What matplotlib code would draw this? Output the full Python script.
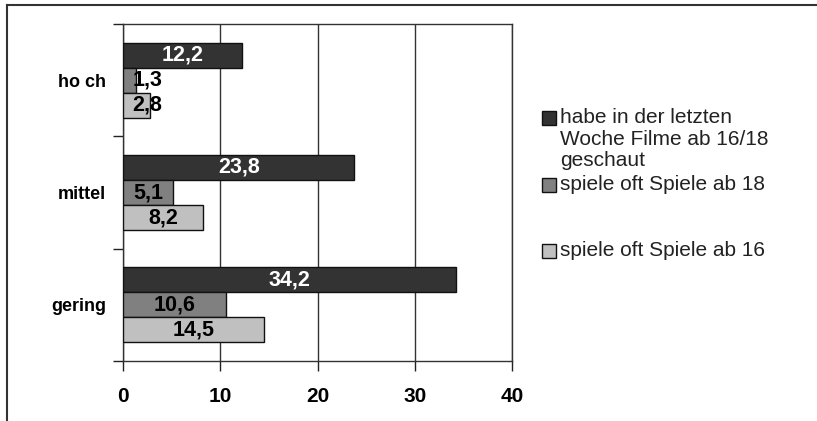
import matplotlib
matplotlib.use("Agg")
import matplotlib.pyplot as plt
from matplotlib.patches import Rectangle
from matplotlib.lines import Line2D

plt.rcParams['font.family'] = ['Liberation Sans', 'DejaVu Sans']

# data (bottom to top on the chart)
categories = ['gering', 'mittel', 'ho ch']
series_names = ['habe in der letzten\nWoche Filme ab 16/18\ngeschaut',
                'spiele oft Spiele ab 18',
                'spiele oft Spiele ab 16']
filme_16_18 = [34.2, 23.8, 12.2]
spiele_18 = [10.6, 5.1, 1.3]
spiele_16 = [14.5, 8.2, 2.8]
x_ticks = [0, 10, 20, 30, 40]

colors = ['#333333', '#808080', '#c0c0c0']
text_colors = ['white', 'black', 'black']

fig = plt.figure(figsize=(8.17, 4.21), dpi=100)
ax = fig.add_axes([0.1506, 0.1425, 0.4761, 0.8005])

bar_h = 0.2226
offsets = [bar_h, 0, -bar_h]
all_series = [filme_16_18, spiele_18, spiele_16]

for s, (vals, off) in enumerate(zip(all_series, offsets)):
    ypos = [i + 0.5 + off for i in range(len(categories))]
    ax.barh(ypos, vals, height=bar_h, color=colors[s], edgecolor='#111111',
            linewidth=1, zorder=3)
    for y, v in zip(ypos, vals):
        ax.text(max(v / 2, 2.5), y, f'{v:.1f}'.replace('.', ','),
                ha='center', va='center', fontsize=15.5, fontweight='bold',
                color=text_colors[s], zorder=4)

ax.set_xlim(0, 40)
ax.set_ylim(0, 3)
ax.set_xticks(x_ticks)
ax.set_xticklabels([str(t) for t in x_ticks], fontsize=15, fontweight='bold')
ax.tick_params(axis='x', length=7, width=1, color='#222222', pad=12)

ax.set_yticks([0, 1, 2, 3])
ax.set_yticklabels([])
ax.set_yticks([0.5, 1.5, 2.5], minor=True)
ax.set_yticklabels(categories, minor=True, fontsize=13, fontweight='bold')
ax.tick_params(axis='y', which='major', length=7, width=1, color='#222222')
ax.tick_params(axis='y', which='minor', length=0, pad=12)

ax.grid(axis='x', color='#333333', linewidth=1, zorder=0)
for sp in ax.spines.values():
    sp.set_color('#333333')
    sp.set_linewidth(1)

# legend, drawn by hand to match the stacked multi-line layout
W, H = 817.0, 421.0
leg_y = [118, 185, 251]
for s, y in enumerate(leg_y):
    fig.patches.append(Rectangle((542 / W, 1 - (y + 7) / H), 14 / W, 14 / H,
                                 transform=fig.transFigure, facecolor=colors[s],
                                 edgecolor='#111111', linewidth=1))
    fig.text(560 / W, 1 - (y - 10) / H, series_names[s], fontsize=15,
             va='top', ha='left', color='#222222', linespacing=1.18)

# outer frame
fig.lines.append(Line2D([7 / W, 1], [1 - 5 / H, 1 - 5 / H], transform=fig.transFigure,
                        color='#333333', linewidth=1.5))
fig.lines.append(Line2D([7 / W, 7 / W], [0, 1 - 5 / H], transform=fig.transFigure,
                        color='#333333', linewidth=1.5))

fig.savefig('out.png', dpi=100)
